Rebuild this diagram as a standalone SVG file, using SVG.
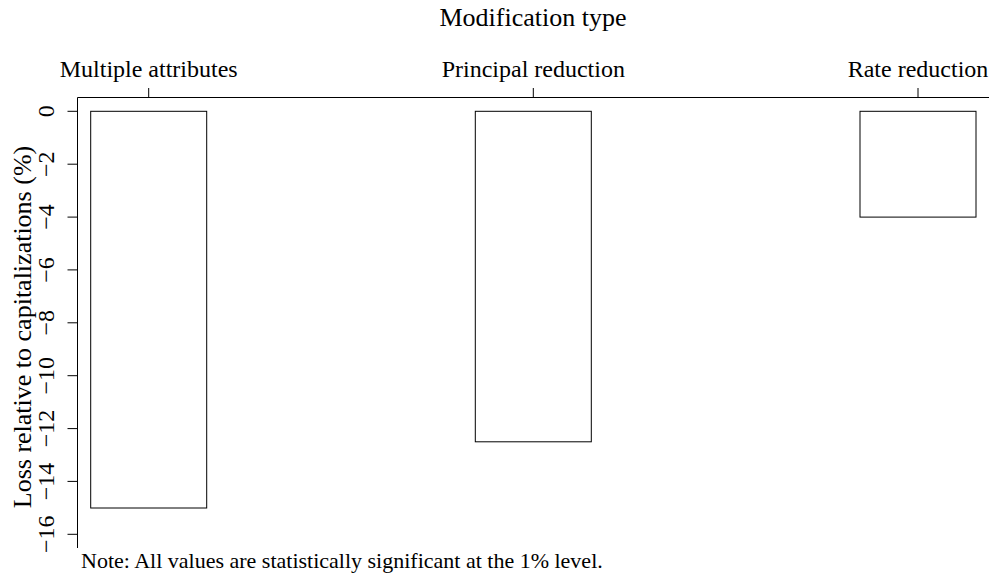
<svg xmlns="http://www.w3.org/2000/svg" width="993" height="578" viewBox="0 0 993 578">
<style>
text{font-family:"Liberation Serif","Times New Roman",serif;fill:#000}
.tick{font-size:24px}
.lab{font-size:26px}
.note{font-size:22px}
.ax{stroke:#000;stroke-width:1;fill:none}
.bar{stroke:#000;stroke-width:1;fill:#fff}
</style>
<rect width="993" height="578" fill="#fff"/>
<text class="lab" x="533" y="26" text-anchor="middle">Modification type</text>
<g id="axes">
<path class="ax" d="M77.5,97.5H989M77.5,97.5V548"/>
<path class="ax" d="M148.7,97.5V88M533.3,97.5V88M918,97.5V88"/>
<path class="ax" d="M77.5,111.3H67.5M77.5,164.2H67.5M77.5,217.1H67.5M77.5,269.9H67.5M77.5,322.8H67.5M77.5,375.7H67.5M77.5,428.6H67.5M77.5,481.4H67.5M77.5,534.3H67.5"/>
<text class="tick" x="148.7" y="77" text-anchor="middle">Multiple attributes</text>
<text class="tick" x="533.3" y="77" text-anchor="middle">Principal reduction</text>
<text class="tick" x="918" y="77" text-anchor="middle">Rate reduction</text>
<g class="tick" text-anchor="middle">
<text transform="translate(54,111.3) rotate(-90)">0</text>
<text transform="translate(54,164.2) rotate(-90)">−2</text>
<text transform="translate(54,217.1) rotate(-90)">−4</text>
<text transform="translate(54,269.9) rotate(-90)">−6</text>
<text transform="translate(54,322.8) rotate(-90)">−8</text>
<text transform="translate(54,375.7) rotate(-90)">−10</text>
<text transform="translate(54,428.6) rotate(-90)">−12</text>
<text transform="translate(54,481.4) rotate(-90)">−14</text>
<text transform="translate(54,534.3) rotate(-90)">−16</text>
</g>
<text class="lab" text-anchor="middle" transform="translate(31,327) rotate(-90)">Loss relative to capitalizations (%)</text>
</g>
<g id="bar-multiple-attributes"><rect class="bar" x="90.7" y="111.3" width="116" height="396.7"/></g>
<g id="bar-principal-reduction"><rect class="bar" x="475.3" y="111.3" width="116" height="330.5"/></g>
<g id="bar-rate-reduction"><rect class="bar" x="860" y="111.3" width="116" height="105.8"/></g>
<text class="note" x="81" y="568">Note: All values are statistically significant at the 1% level.</text>
</svg>
